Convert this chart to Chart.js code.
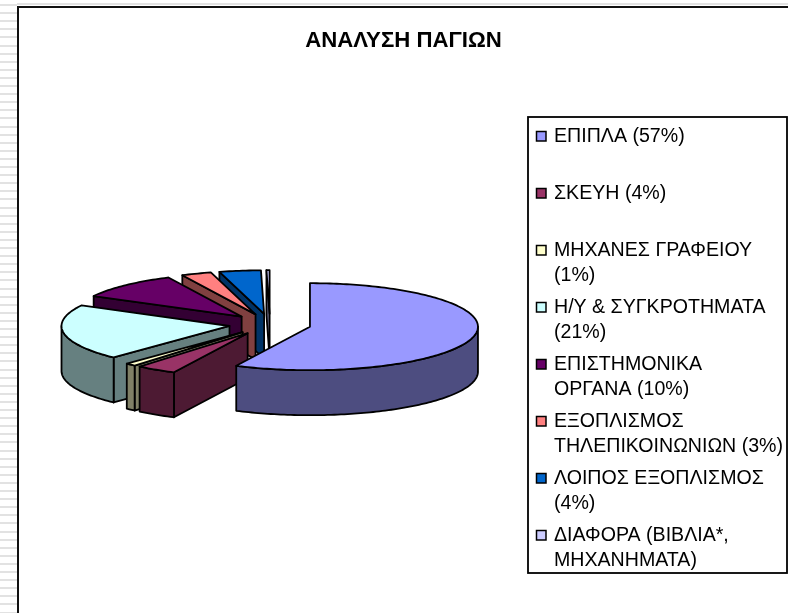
<!DOCTYPE html>
<html>
<head>
<meta charset="utf-8">
<script src="https://cdn.jsdelivr.net/npm/chart.js@4"></script>
<style>
html, body { margin: 0; padding: 0; width: 788px; height: 613px; overflow: hidden; background: #fff; }
#stripes { position: absolute; left: 0; top: 0; width: 788px; height: 6px; background: linear-gradient(#fff 0, #fff 3px, #e2e2e2 3px, #e2e2e2 5px, #fff 5px); }
#stripesLeft { position: absolute; left: 0; top: 0; width: 17px; height: 613px; background: repeating-linear-gradient(#fff 0, #fff 4px, #e2e2e2 4px, #e2e2e2 6px, #fff 6px, #fff 8.1px); }
#frame { position: absolute; left: 17px; top: 6px; width: 771px; height: 607px; border-left: 2px solid #111; border-top: 2px solid #111; box-sizing: border-box; background: #fff; }
canvas { display: block; }
</style>
</head>
<body>
<div id="stripes"></div>
<div id="stripesLeft"></div>
<div id="frame"><canvas id="chart" width="769" height="605"></canvas></div>
<script>
const sTitle = "ΑΝΑΛΥΣΗ ΠΑΓΙΩΝ";
const aLabels = [
    ["ΕΠΙΠΛΑ (57%)"],
    ["ΣΚΕΥΗ (4%)"],
    ["ΜΗΧΑΝΕΣ ΓΡΑΦΕΙΟΥ", "(1%)"],
    ["Η/Υ & ΣΥΓΚΡΟΤΗΜΑΤΑ", "(21%)"],
    ["ΕΠΙΣΤΗΜΟΝΙΚΑ", "ΟΡΓΑΝΑ (10%)"],
    ["ΕΞΟΠΛΙΣΜΟΣ", "ΤΗΛΕΠΙΚΟΙΝΩΝΙΩΝ (3%)"],
    ["ΛΟΙΠΟΣ ΕΞΟΠΛΙΣΜΟΣ", "(4%)"],
    ["ΔΙΑΦΟΡΑ (ΒΙΒΛΙΑ*,", "ΜΗΧΑΝΗΜΑΤΑ)"]
];
const aValues = [57.4, 3.9, 1, 20.8, 10, 2.9, 4, 0.3];
const aTopColors = ["#9999FF", "#993366", "#FFFFCC", "#CCFFFF", "#660066", "#FF8080", "#0066CC", "#CCCCFF"];
const aWallColors = ["#4D4D80", "#4D1A33", "#808066", "#668080", "#330033", "#804040", "#003366", "#666680"];

// 3d pie settings
const iExplode = 41;
const fSquash = 43.5 / 168;
const iDepth = 45;
// title stays centred on the whole canvas, the pie sits left of the legend
const fPieShift = -133.5;

const pie3d = {
    id: "pie3d",
    beforeDatasetDraw: function (chart, args) {
        const ctx = chart.ctx;
        const aArcs = args.meta.data;

        // back slices first, the first slice ends up on top
        for (let i = aArcs.length - 1; i >= 0; i--) {
            const oArc = aArcs[i];
            const { x, y, startAngle, endAngle, outerRadius } = oArc.getProps(["x", "y", "startAngle", "endAngle", "outerRadius"], true);
            const fMid = (startAngle + endAngle) / 2;
            const fCx = x + fPieShift + Math.cos(fMid) * iExplode;
            const fCy = y + Math.sin(fMid) * iExplode * fSquash;
            const px = (a) => fCx + Math.cos(a) * outerRadius;
            const py = (a) => fCy + Math.sin(a) * outerRadius * fSquash;

            ctx.save();
            ctx.lineWidth = 1.8;
            ctx.lineJoin = "round";
            ctx.strokeStyle = "#000";
            ctx.fillStyle = aWallColors[i];

            // radial wall, only the ones facing the viewer
            [[startAngle, Math.cos(startAngle) < 0], [endAngle, Math.cos(endAngle) > 0]].forEach(function (aWall) {
                if (!aWall[1]) return;
                ctx.beginPath();
                ctx.moveTo(fCx, fCy);
                ctx.lineTo(px(aWall[0]), py(aWall[0]));
                ctx.lineTo(px(aWall[0]), py(aWall[0]) + iDepth);
                ctx.lineTo(fCx, fCy + iDepth);
                ctx.closePath();
                ctx.fill();
                ctx.stroke();
            });

            // outer wall, lower half of the ellipse only
            const aSpans = [[startAngle, endAngle], [startAngle + Math.PI * 2, endAngle + Math.PI * 2]];
            aSpans.forEach(function (aSpan) {
                const fFrom = Math.max(aSpan[0], 0);
                const fTo = Math.min(aSpan[1], Math.PI);
                if (fTo <= fFrom) return;
                ctx.beginPath();
                for (let a = fFrom; a < fTo; a += 0.02) ctx.lineTo(px(a), py(a));
                ctx.lineTo(px(fTo), py(fTo));
                for (let a = fTo; a > fFrom; a -= 0.02) ctx.lineTo(px(a), py(a) + iDepth);
                ctx.lineTo(px(fFrom), py(fFrom) + iDepth);
                ctx.closePath();
                ctx.fill();
                ctx.stroke();
            });

            // top face is the library's arc, squashed
            ctx.save();
            ctx.translate(fCx, fCy);
            ctx.scale(1, fSquash);
            ctx.translate(-x, -y);
            oArc.draw(ctx);
            ctx.restore();

            // outline after restore so the pen stays round
            ctx.beginPath();
            ctx.moveTo(fCx, fCy);
            for (let a = startAngle; a < endAngle; a += 0.02) ctx.lineTo(px(a), py(a));
            ctx.lineTo(px(endAngle), py(endAngle));
            ctx.closePath();
            ctx.stroke();
            ctx.restore();
        }
        return false;
    },
    afterDraw: function (chart) {
        const ctx = chart.ctx;
        const iLeft = 509, iTop = 109, iWidth = 259, iHeight = 456;
        const iStep = 57, iLine = 25, fFirstY = 19.5;

        ctx.save();
        ctx.lineWidth = 1.8;
        ctx.strokeStyle = "#000";
        ctx.strokeRect(iLeft, iTop, iWidth, iHeight);

        ctx.font = "19.6px 'Liberation Sans'";
        ctx.textBaseline = "middle";
        chart.data.labels.forEach(function (aLines, i) {
            const fY = iTop + fFirstY + i * iStep;
            ctx.fillStyle = aTopColors[i];
            ctx.fillRect(iLeft + 8.5, fY - 5, 9.5, 9.5);
            ctx.lineWidth = 1.5;
            ctx.strokeRect(iLeft + 8.5, fY - 5, 9.5, 9.5);
            ctx.fillStyle = "#000";
            aLines.forEach(function (sLine, j) {
                ctx.fillText(sLine, iLeft + 26, fY + j * iLine);
            });
        });
        ctx.restore();
    }
};

new Chart(document.getElementById("chart").getContext("2d"), {
    type: "pie",
    data: {
        labels: aLabels,
        datasets: [{
            data: aValues,
            backgroundColor: aTopColors,
            borderWidth: 0,
            radius: 168
        }]
    },
    options: {
        responsive: false,
        animation: false,
        layout: { padding: { bottom: 19 } },
        plugins: {
            legend: { display: false },
            tooltip: { enabled: false },
            title: {
                display: true,
                text: sTitle,
                color: "#000",
                font: { family: "'Liberation Sans'", size: 22.2, weight: "bold" },
                padding: { top: 20, bottom: 0 }
            }
        }
    },
    plugins: [pie3d]
});
</script>
</body>
</html>
